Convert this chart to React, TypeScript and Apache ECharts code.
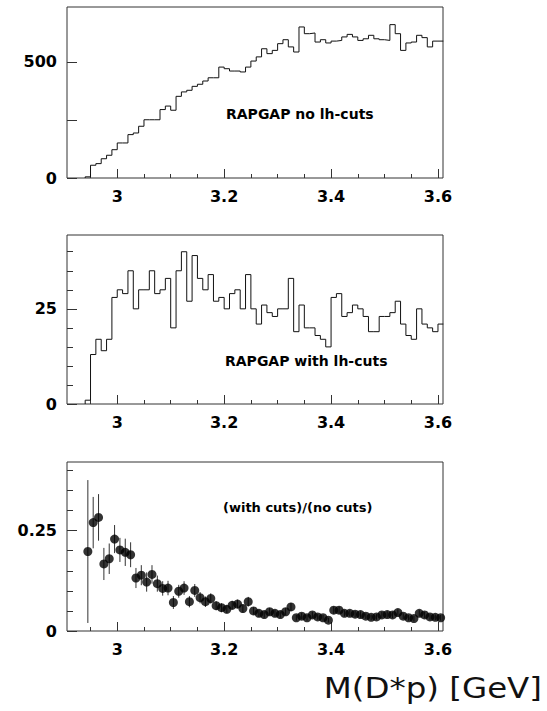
import React, { useEffect, useRef } from "react";
import * as echarts from "echarts";

// Lower edges of the 0.01 GeV mass bins
const binLow = [
  2.94, 2.95, 2.96, 2.97, 2.98, 2.99, 3.0, 3.01, 3.02, 3.03, 3.04, 3.05, 3.06, 3.07, 3.08, 3.09,
  3.1, 3.11, 3.12, 3.13, 3.14, 3.15, 3.16, 3.17, 3.18, 3.19, 3.2, 3.21, 3.22, 3.23, 3.24, 3.25,
  3.26, 3.27, 3.28, 3.29, 3.3, 3.31, 3.32, 3.33, 3.34, 3.35, 3.36, 3.37, 3.38, 3.39, 3.4, 3.41,
  3.42, 3.43, 3.44, 3.45, 3.46, 3.47, 3.48, 3.49, 3.5, 3.51, 3.52, 3.53, 3.54, 3.55, 3.56, 3.57,
  3.58, 3.59, 3.6,
];
const BIN_WIDTH = 0.01;

// RAPGAP no lh-cuts
const noCuts = [
  5, 55, 62, 83, 98, 122, 151, 151, 187, 194, 223, 251, 251, 251, 295, 310,
  292, 352, 371, 378, 395, 404, 418, 432, 432, 478, 471, 461, 461, 457, 478, 504,
  522, 557, 536, 550, 579, 596, 565, 543, 651, 622, 625, 586, 596, 582, 590, 593,
  608, 619, 608, 593, 600, 615, 600, 596, 593, 661, 622, 550, 582, 586, 615, 605,
  565, 590, 590,
];

// RAPGAP with lh-cuts
const withCuts = [
  1, 13, 17, 14, 17, 28, 30, 29, 35, 25, 30, 30, 35, 29, 30, 33,
  20, 35, 40, 27, 39, 33, 30, 34, 27, 28, 25, 29, 30, 25, 34, 25,
  21, 26, 24, 23, 25, 25, 33, 19, 26, 20, 20, 18, 17, 15, 28, 29,
  23, 24, 26, 25, 23, 19, 19, 23, 23, 24, 27, 21, 18, 17, 25, 21,
  20, 19, 21,
];

// (with cuts)/(no cuts)
const ratio = [
  0.198, 0.27, 0.283, 0.167, 0.18, 0.229, 0.202, 0.196, 0.19, 0.132, 0.139, 0.122, 0.141, 0.118, 0.106, 0.107,
  0.071, 0.099, 0.107, 0.073, 0.101, 0.083, 0.073, 0.081, 0.063, 0.058, 0.054, 0.064, 0.067, 0.056, 0.073, 0.05,
  0.044, 0.041, 0.048, 0.044, 0.041, 0.048, 0.06, 0.033, 0.037, 0.033, 0.04, 0.035, 0.033, 0.027, 0.052, 0.052,
  0.044, 0.044, 0.042, 0.041, 0.037, 0.034, 0.035, 0.04, 0.041, 0.04, 0.046, 0.037, 0.033, 0.031, 0.044, 0.04,
  0.035, 0.034, 0.033,
];
const ratioErr = [
  0.178, 0.064, 0.058, 0.04, 0.038, 0.035, 0.03, 0.034, 0.031, 0.025, 0.025, 0.024, 0.023, 0.02, 0.018, 0.018,
  0.016, 0.016, 0.017, 0.014, 0.016, 0.014, 0.013, 0.013, 0.011, 0.011, 0.01, 0.011, 0.011, 0.01, 0.012, 0.009,
  0.009, 0.008, 0.009, 0.008, 0.008, 0.009, 0.01, 0.007, 0.008, 0.007, 0.008, 0.007, 0.007, 0.006, 0.009, 0.009,
  0.008, 0.008, 0.008, 0.008, 0.007, 0.007, 0.007, 0.008, 0.008, 0.008, 0.008, 0.007, 0.007, 0.007, 0.008, 0.008,
  0.007, 0.007, 0.007,
];

// Axis ticks / labels
const xRange = [2.906, 3.6094];
const xMajorTicks = [3.0, 3.2, 3.4, 3.6];
const xMinorTicks = [2.95, 3.05, 3.1, 3.15, 3.25, 3.3, 3.35, 3.45, 3.5, 3.55];
const y1Max = 737;
const y1Ticks = [0, 250, 500];
const y1Labels = [0, 500];
const y2Max = 44.4;
const y2Major = [0, 25];
const y2Minor = [5, 10, 15, 20, 30, 35, 40];
const y3Max = 0.421;
const y3Major = [0, 0.25];
const y3Minor = [0.05, 0.1, 0.15, 0.2, 0.3, 0.35, 0.4];

const panelTitles = ["RAPGAP no lh-cuts", "RAPGAP with lh-cuts", "(with cuts)/(no cuts)"];
const xTitle = "M(D*p) [GeV]";

const INK = "#111";
const FRAME = "#333";
const labelFont = { fontFamily: "DejaVu Sans", fontWeight: "bold" as const, fontSize: 16, color: "#000" };

function histSteps(vals: number[]) {
  const pts: number[][] = [[binLow[0], 0]];
  binLow.forEach((x, i) => pts.push([x, vals[i]]));
  pts.push([binLow[binLow.length - 1] + BIN_WIDTH, vals[vals.length - 1]]);
  return pts;
}

function xAxes(grid: number) {
  return [
    {
      type: "value", gridIndex: grid, min: xRange[0], max: xRange[1], position: "bottom",
      axisLine: { show: false, onZero: false },
      axisTick: { show: true, inside: true, length: 9, customValues: xMajorTicks, lineStyle: { color: FRAME } },
      axisLabel: { show: true, customValues: xMajorTicks, margin: 10, ...labelFont, formatter: (v: number) => String(+v.toFixed(2)) },
      splitLine: { show: false },
    },
    {
      type: "value", gridIndex: grid, min: xRange[0], max: xRange[1], position: "bottom",
      axisLine: { show: false, onZero: false },
      axisTick: { show: true, inside: true, length: 4, customValues: xMinorTicks, lineStyle: { color: FRAME } },
      axisLabel: { show: false },
      splitLine: { show: false },
    },
  ];
}

function yAxis(grid: number, max: number, ticks: number[], labels: number[] | null, len: number) {
  return {
    type: "value", gridIndex: grid, min: 0, max, position: "left",
    axisLine: { show: false, onZero: false },
    axisTick: { show: true, inside: true, length: len, customValues: ticks, lineStyle: { color: FRAME } },
    axisLabel: labels
      ? { show: true, customValues: labels, margin: 10, ...labelFont, formatter: (v: number) => String(v) }
      : { show: false },
    splitLine: { show: false },
  };
}

export default function App() {
  const ref = useRef<HTMLDivElement>(null);
  useEffect(() => {
    if (!ref.current) return;
    const chart = echarts.init(ref.current, undefined, { renderer: "svg" });
    const gridBase = { left: 67, width: 376, show: true, borderColor: FRAME, borderWidth: 1, containLabel: false };
    const ratioPts = binLow.map((x, i) => [x + BIN_WIDTH / 2, ratio[i]]);
    const errPts = binLow.map((x, i) => [x + BIN_WIDTH / 2, ratio[i] - ratioErr[i], ratio[i] + ratioErr[i]]);
    chart.setOption({
      animation: false,
      backgroundColor: "#fff",
      grid: [
        { ...gridBase, top: 7, height: 171 },
        { ...gridBase, top: 235, height: 169 },
        { ...gridBase, top: 462, height: 169 },
      ],
      xAxis: [...xAxes(0), ...xAxes(1), ...xAxes(2)],
      yAxis: [
        yAxis(0, y1Max, y1Ticks, y1Labels, 10),
        yAxis(1, y2Max, y2Major, y2Major, 10),
        yAxis(1, y2Max, y2Minor, null, 6),
        yAxis(2, y3Max, y3Major, y3Major, 10),
        yAxis(2, y3Max, y3Minor, null, 6),
      ],
      series: [
        {
          type: "line", xAxisIndex: 0, yAxisIndex: 0, step: "end", showSymbol: false, symbol: "none",
          data: histSteps(noCuts), lineStyle: { color: INK, width: 1 }, clip: true,
        },
        {
          type: "line", xAxisIndex: 2, yAxisIndex: 1, step: "end", showSymbol: false, symbol: "none",
          data: histSteps(withCuts), lineStyle: { color: INK, width: 1 }, clip: true,
        },
        {
          type: "custom", xAxisIndex: 4, yAxisIndex: 3, data: errPts, z: 2,
          encode: { x: 0, y: [1, 2] },
          renderItem: (params: any, api: any) => {
            const x = api.value(0);
            const p1 = api.coord([x, api.value(1)]);
            const p2 = api.coord([x, api.value(2)]);
            return {
              type: "line",
              shape: { x1: p1[0], y1: p1[1], x2: p2[0], y2: p2[1] },
              style: { stroke: "#333", lineWidth: 1 },
            };
          },
        },
        {
          type: "scatter", xAxisIndex: 4, yAxisIndex: 3, data: ratioPts, z: 3,
          symbol: "circle", symbolSize: 9, itemStyle: { color: "#000" },
        },
      ],
      graphic: [
        { type: "text", x: 226, y: 114, style: { text: panelTitles[0], font: 'bold 14px "DejaVu Sans"', fill: "#000", textAlign: "left", textVerticalAlign: "middle", align: "left", verticalAlign: "middle" } },
        { type: "text", x: 225, y: 361, style: { text: panelTitles[1], font: 'bold 14px "DejaVu Sans"', fill: "#000", textAlign: "left", textVerticalAlign: "middle", align: "left", verticalAlign: "middle" } },
        { type: "text", x: 223, y: 507, style: { text: panelTitles[2], font: 'bold 13px "DejaVu Sans"', fill: "#000", textAlign: "left", textVerticalAlign: "middle", align: "left", verticalAlign: "middle" } },
        { type: "text", x: 542, y: 688, scaleX: 1.16, style: { text: xTitle, font: '28px "DejaVu Sans"', fill: "#111", textAlign: "right", textVerticalAlign: "middle", align: "right", verticalAlign: "middle" } },
      ],
    });
    return () => chart.dispose();
  }, []);
  return <div ref={ref} style={{ position: "fixed", left: 0, top: 0, width: 547, height: 711 }} />;
}
